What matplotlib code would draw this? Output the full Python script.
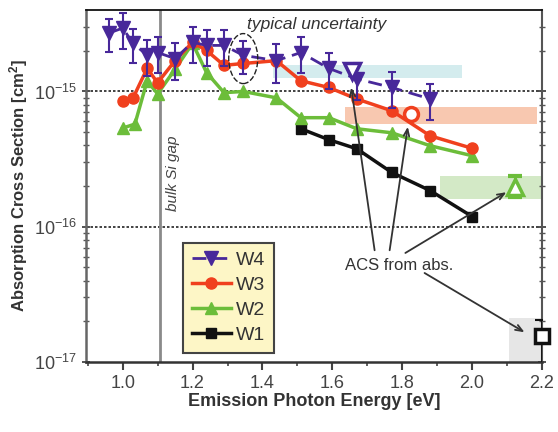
import matplotlib
matplotlib.use('Agg')
import matplotlib.pyplot as plt
from matplotlib.patches import Rectangle, Ellipse
from matplotlib.transforms import ScaledTranslation
from matplotlib.ticker import MultipleLocator, FixedLocator, NullFormatter, FormatStrFormatter, FixedFormatter

plt.rcParams['font.family'] = ['Liberation Sans', 'DejaVu Sans']
plt.rcParams['mathtext.fontset'] = 'custom'
plt.rcParams['mathtext.rm'] = 'Liberation Sans'
plt.rcParams['mathtext.it'] = 'Liberation Sans:italic'
plt.rcParams['mathtext.bf'] = 'Liberation Sans:bold'

# ---------------- data ----------------
w4_E = [0.96, 1.00, 1.03, 1.07, 1.10, 1.15, 1.20, 1.24, 1.29, 1.345, 1.44, 1.51, 1.59, 1.67, 1.77, 1.88]
w4_acs = [2.70e-15, 2.94e-15, 2.27e-15, 1.85e-15, 1.94e-15, 1.75e-15, 2.31e-15, 2.19e-15,
          2.19e-15, 1.85e-15, 1.69e-15, 1.94e-15, 1.48e-15, 1.24e-15, 1.07e-15, 8.8e-16]
w4_rel_err = [0.28, 0.30, 0.28, 0.30, 0.30, 0.30, 0.30, 0.30, 0.30, 0.27, 0.32, 0.30, 0.30, 0.30, 0.30, 0.30]

w3_E = [1.00, 1.03, 1.07, 1.10, 1.15, 1.20, 1.24, 1.29, 1.345, 1.44, 1.51, 1.59, 1.67, 1.77, 1.88, 2.00]
w3_acs = [8.5e-16, 9.0e-16, 1.48e-15, 1.16e-15, 1.69e-15, 2.31e-15, 2.01e-15, 1.56e-15,
          1.61e-15, 1.69e-15, 1.20e-15, 1.07e-15, 8.8e-16, 7.2e-16, 4.7e-16, 3.8e-16]

w2_E = [1.00, 1.035, 1.07, 1.10, 1.15, 1.20, 1.24, 1.29, 1.345, 1.44, 1.51, 1.59, 1.67, 1.77, 1.88, 2.00]
w2_acs = [5.36e-16, 5.74e-16, 1.20e-15, 9.6e-16, 1.46e-15, 2.27e-15, 1.38e-15, 9.8e-16,
          1.0e-15, 8.97e-16, 6.4e-16, 6.4e-16, 5.3e-16, 4.95e-16, 3.97e-16, 3.35e-16]

w1_E = [1.51, 1.59, 1.67, 1.77, 1.88, 2.00]
w1_acs = [5.3e-16, 4.4e-16, 3.77e-16, 2.52e-16, 1.85e-16, 1.19e-16]

series_labels = ['W4', 'W3', 'W2', 'W1']
colors = {'W4': '#48289a', 'W3': '#f0401e', 'W2': '#6cbd3a', 'W1': '#111111'}

# ACS from absorption (open markers)
abs_E = [1.655, 1.826, 2.124, 2.20]
abs_acs = [1.42e-15, 6.8e-16, 1.96e-16, 1.55e-17]
abs_err_low = [None, None, 1.66e-16, 0.8e-17]
abs_err_high = [None, None, 2.39e-16, 2.05e-17]

# shaded bands (E range, ACS range)
band_E = [(1.43, 1.97), (1.636, 2.187), (1.907, 2.20), (2.107, 2.20)]
band_acs = [(1.26e-15, 1.57e-15), (5.77e-16, 7.69e-16), (1.60e-16, 2.39e-16), (1.0e-17, 2.1e-17)]
band_colors = ['#d4ecee', '#f8c8b0', '#d3e9c6', '#e6e6e6']

# arrows ACS from abs.
arrow_tip = [(1.654, 1.07e-15), (1.816, 5.48e-16), (2.098, 1.80e-16), (2.15, 1.66e-17)]
arrow_start = [(1.721, 6.7e-17), (1.764, 6.7e-17), (1.809, 6.4e-17), (1.864, 4.55e-17)]

bulk_si_gap = 1.107
x_ticks = [1.0, 1.2, 1.4, 1.6, 1.8, 2.0, 2.2]
y_ticks = [1e-17, 1e-16, 1e-15]
y_tick_labels = ['$10^{-17}$', '$10^{-16}$', '$10^{-15}$']

# ---------------- figure ----------------
fig = plt.figure(figsize=(5.58, 4.32), dpi=100)
ax = fig.add_axes([0.1541, 0.162, 0.8172, 0.8148])
ax.set_yscale('log')
ax.set_xlim(0.895, 2.2)
ax.set_ylim(1e-17, 4e-15)

# bands
for (e0, e1), (a0, a1), c in zip(band_E, band_acs, band_colors):
    ax.add_patch(Rectangle((e0, a0), e1 - e0, a1 - a0, facecolor=c, edgecolor='none', zorder=0.5))

# dotted reference lines
for v in [1e-15, 1e-16]:
    ax.axhline(v, color='#222222', ls=(0, (1.5, 1.2)), lw=1.2, zorder=1)

# bulk Si gap
ax.axvline(bulk_si_gap, color='#8a8a8a', lw=2, zorder=1)
ax.text(1.143, 2.5e-16, 'bulk Si gap', rotation=90, style='italic', fontsize=11,
        color='#444444', ha='center', va='center')

# series
h1, = ax.plot(w1_E, w1_acs, color=colors['W1'], lw=2.5, marker='s', ms=7, zorder=3)
h2, = ax.plot(w2_E, w2_acs, color=colors['W2'], lw=2.5, marker='^', ms=8, zorder=3)
h3, = ax.plot(w3_E, w3_acs, color=colors['W3'], lw=2.5, marker='o', ms=8, zorder=4)
w4_err = [a * r for a, r in zip(w4_acs, w4_rel_err)]
ax.errorbar(w4_E, w4_acs, yerr=w4_err, fmt='none', ecolor=colors['W4'], elinewidth=1.5,
            capsize=3, capthick=1.5, zorder=5)
h4, = ax.plot(w4_E, w4_acs, color=colors['W4'], lw=2, ls=(0, (5, 2.5)), marker='v', ms=9.5,
              zorder=6)

# open markers (ACS from absorption)
abs_markers = ['v', 'o', '^', 's']
abs_colors = [colors['W4'], colors['W3'], colors['W2'], colors['W1']]
abs_ms = [12, 10, 12, 10]
for i, (e, a) in enumerate(zip(abs_E, abs_acs)):
    if abs_err_low[i] is not None:
        ecap = 3 if i == 2 else 1.5
        ax.errorbar([e], [a], yerr=[[a - abs_err_low[i]], [abs_err_high[i] - a]], fmt='none',
                    ecolor=abs_colors[i], elinewidth=2, capsize=5, capthick=ecap, zorder=7)
    ax.plot([e], [a], ls='none', marker=abs_markers[i], ms=abs_ms[i], mfc='white',
            mec=abs_colors[i], mew=2.5, zorder=8, clip_on=False)

# arrows
for tip, start in zip(arrow_tip, arrow_start):
    ax.annotate('', xy=tip, xytext=start,
                arrowprops=dict(arrowstyle='->,head_length=0.5,head_width=0.2', color='#333333',
                                lw=1.3, shrinkA=0, shrinkB=0), zorder=9)
ax.text(1.79, 5.2e-17, 'ACS from abs.', fontsize=12, color='#333333', ha='center', va='center')

# typical uncertainty
ax.text(1.355, 3.13e-15, 'typical uncertainty', fontsize=12.5, style='italic', color='#333333',
        ha='left', va='center')
ell = Ellipse((0, 0), 0.29, 0.50, facecolor='none', edgecolor='#222222', lw=1, ls=(0, (4, 1.5)),
              transform=fig.dpi_scale_trans + ScaledTranslation(1.345, 1.75e-15, ax.transData),
              zorder=9)
ax.add_patch(ell)

# axes styling
ax.xaxis.set_major_locator(FixedLocator(x_ticks))
ax.xaxis.set_major_formatter(FormatStrFormatter('%.1f'))
ax.xaxis.set_minor_locator(MultipleLocator(0.1))
ax.yaxis.set_major_locator(FixedLocator(y_ticks))
ax.yaxis.set_major_formatter(FixedFormatter(y_tick_labels))
minor_y = [m * d for d in [1e-17, 1e-16, 1e-15] for m in range(2, 10) if m * d < 4e-15]
ax.yaxis.set_minor_locator(FixedLocator(minor_y))
ax.yaxis.set_minor_formatter(NullFormatter())
ax.tick_params(axis='x', which='major', direction='out', length=6, width=1.5, colors='#444444',
               labelsize=13, pad=3)
ax.tick_params(axis='x', which='minor', direction='out', length=3, width=1.2, colors='#444444')
ax.tick_params(axis='y', which='major', direction='inout', length=6, width=1.3, colors='#444444',
               labelsize=13, right=True)
ax.tick_params(axis='y', which='minor', direction='inout', length=4, width=1, colors='#555555',
               right=True)
for lab in ax.get_xticklabels() + ax.get_yticklabels():
    lab.set_color('#444444')

ax.spines['left'].set_color('#666666')
ax.spines['left'].set_linewidth(1.8)
ax.spines['bottom'].set_color('#333333')
ax.spines['bottom'].set_linewidth(1.8)
ax.spines['top'].set_color('#111111')
ax.spines['top'].set_linewidth(1.3)
ax.spines['right'].set_color('#555555')
ax.spines['right'].set_linewidth(1.5)

ax.set_xlabel('Emission Photon Energy [eV]', fontsize=13, fontweight='bold', color='#333333',
              labelpad=1)
ax.set_ylabel('Absorption Cross Section [cm$^{\\mathbf{2}}$]', fontsize=12, fontweight='bold',
              color='#333333', labelpad=3)

leg = ax.legend([h4, h3, h2, h1], series_labels, loc='lower left', bbox_to_anchor=(0.213, 0.026),
                borderaxespad=0, fontsize=14, handlelength=2.0, handletextpad=0.25,
                labelspacing=0.38, borderpad=0.45, fancybox=False, framealpha=1,
                facecolor='#fdf6c6', edgecolor='#444444')
leg.get_frame().set_linewidth(1.5)
for t in leg.get_texts():
    t.set_color('#333333')

fig.savefig('out.png', dpi=100)
